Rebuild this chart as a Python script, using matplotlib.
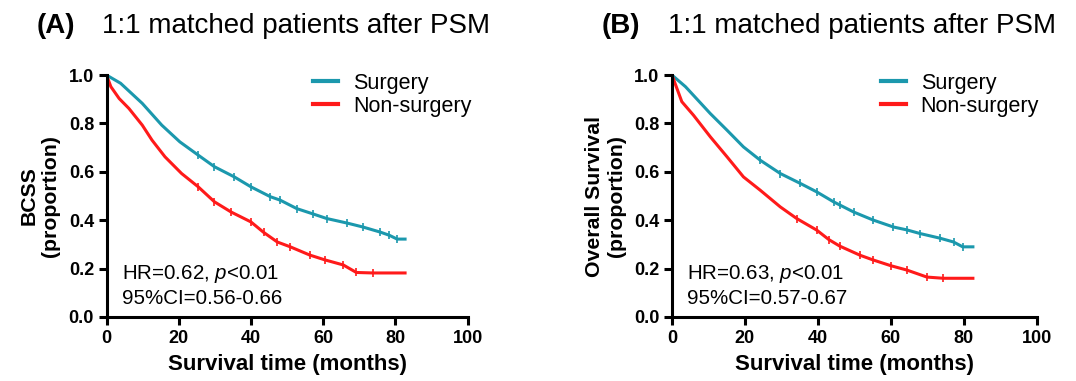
import numpy as np
import matplotlib
matplotlib.use("Agg")
import matplotlib.pyplot as plt

plt.rcParams['font.family'] = ['Liberation Sans', 'DejaVu Sans']
plt.rcParams['mathtext.fontset'] = 'custom'
plt.rcParams['mathtext.it'] = 'Liberation Sans:italic'
plt.rcParams['mathtext.rm'] = 'Liberation Sans'

SURG_COLOR = '#1b98ad'
NON_COLOR = '#ff1a1a'

# ---- panel A : BCSS -------------------------------------------------------
a_surg_t = [0, 3.9, 9.9, 15.3, 20.3, 25.4, 29.9, 35.4, 40.0, 45.4, 48.1, 52.7, 57.2, 61.0, 66.7, 71.0, 75.8, 78.3, 80.5, 82.7]
a_surg_v = [1.0, 0.966, 0.883, 0.793, 0.724, 0.669, 0.621, 0.579, 0.538, 0.497, 0.483, 0.448, 0.426, 0.407, 0.388, 0.372, 0.351, 0.338, 0.322, 0.322]
a_non_t = [0, 1.2, 3.5, 6.2, 9.9, 12.6, 16.2, 20.8, 25.4, 29.9, 34.5, 40.0, 43.5, 47.3, 50.9, 56.3, 60.5, 65.6, 69.2, 73.8, 82.7]
a_non_v = [1.0, 0.952, 0.903, 0.862, 0.793, 0.731, 0.662, 0.593, 0.538, 0.476, 0.434, 0.393, 0.350, 0.310, 0.290, 0.256, 0.236, 0.215, 0.184, 0.182, 0.182]

# ---- panel B : overall survival -------------------------------------------
b_surg_t = [0, 3.7, 10.5, 15.1, 19.6, 24.2, 29.7, 35.2, 39.7, 44.3, 46.0, 49.8, 55.1, 60.7, 64.4, 68.0, 73.4, 77.2, 79.7, 82.5]
b_surg_v = [1.0, 0.952, 0.841, 0.772, 0.703, 0.648, 0.593, 0.552, 0.517, 0.476, 0.463, 0.434, 0.401, 0.372, 0.360, 0.345, 0.326, 0.310, 0.290, 0.290]
b_non_t = [0, 2.7, 5.9, 10.5, 15.1, 19.6, 24.2, 29.7, 34.2, 39.7, 43.0, 46.0, 51.6, 55.1, 60.0, 64.4, 69.9, 74.4, 82.5]
b_non_v = [1.0, 0.890, 0.834, 0.745, 0.662, 0.579, 0.524, 0.455, 0.407, 0.359, 0.320, 0.293, 0.255, 0.236, 0.212, 0.194, 0.165, 0.160, 0.160]

group_labels = ['Surgery', 'Non-surgery']
panel_letters = ['(A)', '(B)']
panel_title = '1:1 matched patients after PSM'
ylabels = ['BCSS\n(proportion)', 'Overall Survival\n(proportion)']
hr_lines = ['HR=0.62, $\\it{p}$<0.01', 'HR=0.63, $\\it{p}$<0.01']
ci_lines = ['95%CI=0.56-0.66', '95%CI=0.57-0.67']
xticks = [0, 20, 40, 60, 80, 100]
yticks = [0.0, 0.2, 0.4, 0.6, 0.8, 1.0]

fig = plt.figure(figsize=(10.76, 3.81), dpi=100)
ax_a = fig.add_axes([0.0990, 0.168, 0.3355, 0.635])
ax_b = fig.add_axes([0.6245, 0.168, 0.339, 0.635])

panels = [
    (ax_a, a_surg_t, a_surg_v, a_non_t, a_non_v),
    (ax_b, b_surg_t, b_surg_v, b_non_t, b_non_v),
]

for i, (ax, st, sv, nt, nv) in enumerate(panels):
    ax.plot(st, sv, color=SURG_COLOR, lw=2.2, label=group_labels[0],
            marker='|', markersize=6, markeredgewidth=1.2, markevery=slice(5, -1))
    ax.plot(nt, nv, color=NON_COLOR, lw=2.2, label=group_labels[1],
            marker='|', markersize=6, markeredgewidth=1.2, markevery=slice(8, -1))

    ax.set_xlim(0, 100)
    ax.set_ylim(0, 1.0)
    ax.set_xticks(xticks)
    ax.set_yticks(yticks)
    ax.set_yticklabels(['%.1f' % y for y in yticks])
    for sp in ['top', 'right']:
        ax.spines[sp].set_visible(False)
    for sp in ['left', 'bottom']:
        ax.spines[sp].set_linewidth(2.2)
    ax.tick_params(direction='out', length=5.5, width=2.2, labelsize=13)
    ax.tick_params(axis='x', pad=4)
    for lab in ax.get_xticklabels() + ax.get_yticklabels():
        lab.set_fontweight('bold')

    ax.set_xlabel('Survival time (months)', fontsize=16, fontweight='bold', labelpad=5)
    ax.set_ylabel(ylabels[i], fontsize=15.3, fontweight='bold', labelpad=6)

    leg = ax.legend(loc='upper left', bbox_to_anchor=(0.572, 1.01), frameon=False,
                    fontsize=15.5, handlelength=1.16, handletextpad=0.7, labelspacing=0.1,
                    borderaxespad=0, borderpad=0)
    for ln in leg.get_lines():
        ln.set_linewidth(3)
        ln.set_marker('')

    ax.text(0.042, 0.157, hr_lines[i], transform=ax.transAxes, fontsize=14.8,
            ha='left', va='baseline')
    ax.text(0.042, 0.054, ci_lines[i], transform=ax.transAxes, fontsize=14.8,
            ha='left', va='baseline')

    # panel titles
    bbox = ax.get_position()
    fig.text(bbox.x0 - 0.065, 0.913, panel_letters[i], fontsize=20, fontweight='bold',
             ha='left', va='baseline')
    fig.text(bbox.x0 - 0.004, 0.913, panel_title, fontsize=20, ha='left', va='baseline')

fig.savefig('out.png', dpi=100)
